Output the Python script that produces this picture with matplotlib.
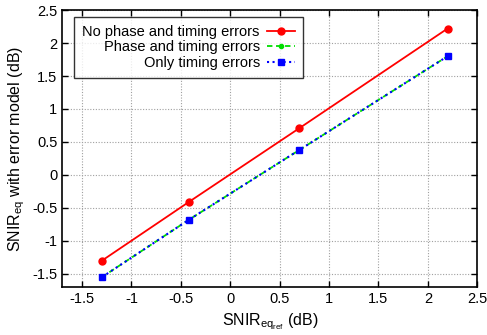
import numpy as np
import matplotlib.pyplot as plt

plt.rcParams['font.family'] = ['Liberation Sans', 'DejaVu Sans']
plt.rcParams['mathtext.fontset'] = 'custom'
plt.rcParams['mathtext.rm'] = 'Liberation Sans'
plt.rcParams['mathtext.it'] = 'Liberation Sans'

# data
snir_ref = [-1.3, -0.42, 0.7, 2.2]
no_errors = [-1.3, -0.41, 0.71, 2.22]
phase_timing = [-1.55, -0.68, 0.38, 1.8]
only_timing = [-1.55, -0.68, 0.38, 1.8]

fig, ax = plt.subplots(figsize=(4.87, 3.35), dpi=100)

ax.plot(snir_ref, no_errors, '-', color='#ff0000', lw=1.3, marker='o', ms=5,
        label='No phase and timing errors')
ax.plot(snir_ref, phase_timing, '--', color='#00dd00', lw=1.3, marker='o', ms=3,
        dashes=(3, 2), label='Phase and timing errors')
ax.plot(snir_ref, only_timing, ':', color='#0000ff', lw=1.5, marker='s', ms=4,
        label='Only timing errors')

ticks = np.arange(-1.5, 2.51, 0.5)
ax.set_xlim(-1.7, 2.5)
ax.set_ylim(-1.7, 2.5)
ax.set_xticks(ticks)
ax.set_yticks(ticks)
ax.set_xticklabels([f'{v:g}' for v in ticks])
ax.set_yticklabels([f'{v:g}' for v in ticks])
ax.tick_params(direction='in', top=True, right=True, length=4, width=1, labelsize=10.5)
for s in ax.spines.values():
    s.set_linewidth(1.2)
ax.grid(True, color='#a0a0a0', linestyle=(0, (1, 1.5)), linewidth=0.8)

ax.set_xlabel(r'SNIR$_{\mathrm{eq}_{\mathrm{ref}}}$ (dB)', fontsize=11.5)
ax.set_ylabel(r'SNIR$_{\mathrm{eq}}$ with error model (dB)', fontsize=11.5)

leg = ax.legend(loc='upper left', bbox_to_anchor=(0.029, 0.975), markerfirst=False,
                fontsize=10.5, frameon=True, fancybox=False, edgecolor='black',
                handlelength=1.9, handletextpad=0.5, borderpad=0.55,
                borderaxespad=0.0, labelspacing=0.1, alignment='right')
for t in leg.get_texts():
    t.set_ha('right')
leg.get_frame().set_linewidth(1.0)

plt.subplots_adjust(left=0.128, right=0.98, top=0.97, bottom=0.143)
plt.savefig('out.png', dpi=100)
